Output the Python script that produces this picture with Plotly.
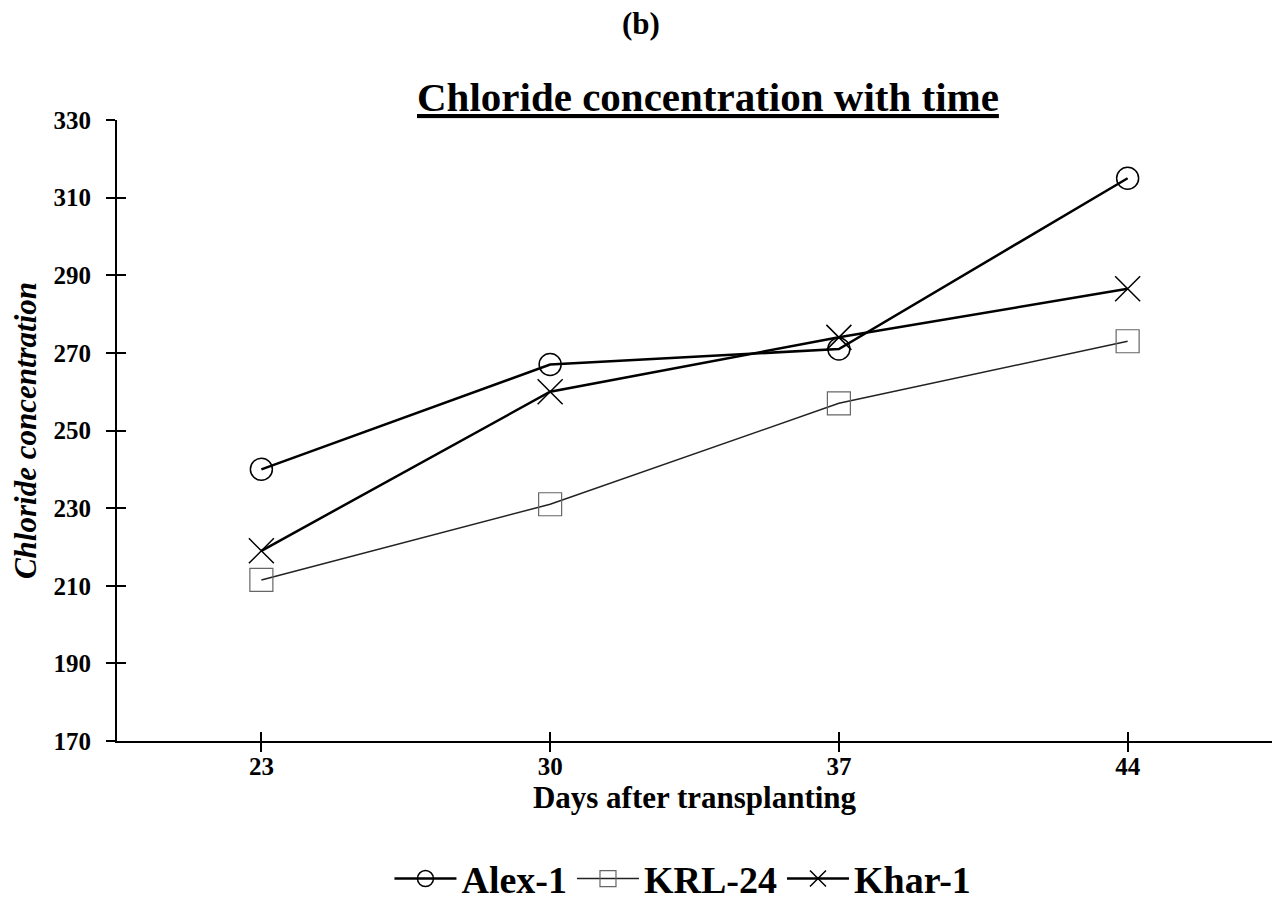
import plotly.graph_objects as go

# Days after transplanting and chloride concentration for each variety
days = [23, 30, 37, 44]
alex_1 = [240, 267, 271, 315]
krl_24 = [211.5, 231, 257, 273]
khar_1 = [219, 260, 274, 286.5]

y_ticks = [170, 190, 210, 230, 250, 270, 290, 310, 330]
x_range = [19.5, 47.5]
y_range = [170, 330]

FONT = "Liberation Serif, Times New Roman, serif"

fig = go.Figure()

fig.add_trace(go.Scatter(
    x=days, y=alex_1, name="Alex-1", mode="lines+markers",
    line=dict(color="black", width=2.5),
    marker=dict(symbol="circle-open", size=22, color="black", line=dict(width=1.5)),
))
fig.add_trace(go.Scatter(
    x=days, y=krl_24, name="KRL-24", mode="lines+markers",
    line=dict(color="#222", width=1.5),
    marker=dict(symbol="square-open", size=23, color="#666", line=dict(width=1.2)),
))
fig.add_trace(go.Scatter(
    x=days, y=khar_1, name="Khar-1", mode="lines+markers",
    line=dict(color="black", width=2.5),
    marker=dict(symbol="x-thin-open", size=25, color="black", line=dict(width=1.5)),
))

# invisible trace on the overlay axes so the inward ticks are drawn
fig.add_trace(go.Scatter(
    x=days, y=alex_1, xaxis="x2", yaxis="y2", mode="markers",
    marker=dict(opacity=0), showlegend=False, hoverinfo="skip",
))

fig.update_layout(
    width=1274, height=902,
    margin=dict(l=117, r=2, t=120, b=161, autoexpand=False),
    paper_bgcolor="white", plot_bgcolor="white",
    font=dict(family=FONT, color="black"),
    showlegend=True,
    legend=dict(
        orientation="h", x=0.49, xanchor="center", y=-0.222, yanchor="middle",
        font=dict(family=FONT, size=38, color="black", weight="bold"),
        tracegroupgap=0, itemwidth=62,
    ),
    xaxis=dict(
        range=x_range, tickvals=days, ticktext=[str(d) for d in days],
        showgrid=False, zeroline=False, showline=True, linecolor="black", linewidth=2,
        ticks="outside", ticklen=9, tickwidth=2, tickcolor="black", ticklabelstandoff=-7,
        tickfont=dict(size=25, family=FONT, weight="bold"),
        title=dict(text="<b>Days after transplanting</b>", font=dict(size=31, family=FONT), standoff=0),
    ),
    yaxis=dict(
        range=y_range, tickvals=y_ticks,
        showgrid=False, zeroline=False, showline=True, linecolor="black", linewidth=2,
        ticks="outside", ticklen=9, tickwidth=2, tickcolor="black", ticklabelstandoff=10,
        tickfont=dict(size=25, family=FONT, weight="bold"),
        title=dict(text="<b><i>Chloride concentration</i></b>", font=dict(size=31, family=FONT), standoff=8),
    ),
    xaxis2=dict(
        range=x_range, overlaying="x", anchor="y2", side="bottom", tickvals=days,
        showticklabels=False, showgrid=False, zeroline=False, showline=False,
        ticks="inside", ticklen=9, tickwidth=2, tickcolor="black",
    ),
    yaxis2=dict(
        range=y_range, overlaying="y", anchor="x2", side="left", tickvals=y_ticks,
        showticklabels=False, showgrid=False, zeroline=False, showline=False,
        ticks="inside", ticklen=9, tickwidth=2, tickcolor="black",
    ),
)

# panel label and chart title above the plotting area
fig.add_annotation(
    text="<b>(b)</b>", x=0.4537, y=1, xref="paper", yref="paper",
    xanchor="center", yanchor="middle", yshift=97, showarrow=False,
    font=dict(size=31, family=FONT),
)
fig.add_annotation(
    text="<b><u>Chloride concentration with time</u></b>",
    x=0.5117, y=1, xref="paper", yref="paper", xanchor="center", yanchor="bottom",
    yshift=-2, showarrow=False, font=dict(size=41, family=FONT),
)

fig.write_html("out.html")
